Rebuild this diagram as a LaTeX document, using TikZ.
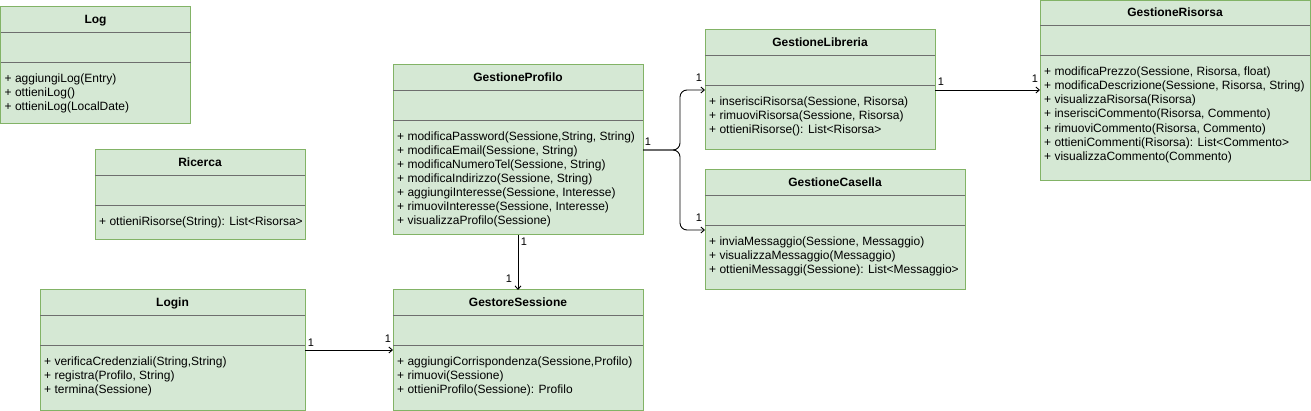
\documentclass[tikz,border=0pt]{standalone}
\usepackage{fontspec}
\setmainfont{Liberation Sans}
\usetikzlibrary{arrows.meta}
\definecolor{gfill}{HTML}{D5E8D4}
\definecolor{gdraw}{HTML}{82B366}
\definecolor{sepcol}{HTML}{6E6E6E}
\tikzset{
  clsbox/.style={draw=gdraw, fill=gfill, line width=1pt, rectangle, inner sep=0pt, outer sep=0pt},
  clstitle/.style={font=\bfseries\fontsize{12}{14}\selectfont, inner sep=0pt, anchor=base},
  clssep/.style={draw=sepcol, line width=0.8pt},
  clsmeth/.style={font=\fontsize{12}{14.1}\selectfont, align=left, inner sep=0pt},
  assoc/.style={draw=black, line width=0.9pt, -{Straight Barb[length=3.5pt,width=6pt]}},
  mult/.style={font=\fontsize{11}{13}\selectfont, inner sep=0pt}
}
\newcommand\umlclass[7]{%
  \node[clsbox, minimum width=#4pt, minimum height=#5pt, anchor=north west] (#1) at (#2,#3) {};
  \node[clstitle] (#1-title) at ([yshift=-16.5pt]#1.north) {#6};
  \draw[clssep] ([yshift=-25pt]#1.north west) -- ([yshift=-25pt]#1.north east);
  \draw[clssep] ([yshift=-55pt]#1.north west) -- ([yshift=-55pt]#1.north east);
  \node[clsmeth, anchor=north west] (#1-ops) at ([xshift=4pt,yshift=-66.3pt]#1.north west) {#7};
}
\begin{document}
\begin{tikzpicture}[x=1pt,y=-1pt]
\useasboundingbox (0,0) rectangle (1311,411);
\umlclass{log}{0.5}{7}{190}{117}{Log}{+ aggiungiLog(Entry)\\+ ottieniLog()\\+ ottieniLog(LocalDate)}
\umlclass{ric}{95}{150}{210}{90}{Ricerca}{+ ottieniRisorse(String): List<Risorsa>}
\umlclass{prof}{393}{65}{250}{170}{GestioneProfilo}{+ modificaPassword(Sessione,String, String)\\+ modificaEmail(Sessione, String)\\+ modificaNumeroTel(Sessione, String)\\+ modificaIndirizzo(Sessione, String)\\+ aggiungiInteresse(Sessione, Interesse)\\+ rimuoviInteresse(Sessione, Interesse)\\+ visualizzaProfilo(Sessione)}
\umlclass{lib}{705}{30}{230}{120}{GestioneLibreria}{+ inserisciRisorsa(Sessione, Risorsa)\\+ rimuoviRisorsa(Sessione, Risorsa)\\+ ottieniRisorse(): List<Risorsa>}
\umlclass{cas}{705}{170}{260}{120}{GestioneCasella}{+ inviaMessaggio(Sessione, Messaggio)\\+ visualizzaMessaggio(Messaggio)\\+ ottieniMessaggi(Sessione): List<Messaggio>}
\umlclass{ris}{1040}{0.5}{270}{180}{GestioneRisorsa}{+ modificaPrezzo(Sessione, Risorsa, float)\\+ modificaDescrizione(Sessione, Risorsa, String)\\+ visualizzaRisorsa(Risorsa)\\+ inserisciCommento(Risorsa, Commento)\\+ rimuoviCommento(Risorsa, Commento)\\+ ottieniCommenti(Risorsa): List<Commento>\\+ visualizzaCommento(Commento)}
\umlclass{login}{40}{290}{265}{120}{Login}{+ verificaCredenziali(String,String)\\+ registra(Profilo, String)\\+ termina(Sessione)}
\umlclass{sess}{393}{290}{250}{120}{GestoreSessione}{+ aggiungiCorrispondenza(Sessione,Profilo)\\+ rimuovi(Sessione)\\+ ottieniProfilo(Sessione): Profilo}

\draw[assoc, rounded corners=7pt] (prof.east) -| ([xshift=-25pt]lib.west) -- (lib.west);
\draw[assoc, rounded corners=7pt] (prof.east) -| ([xshift=-25pt]cas.west) -- (cas.west);
\draw[assoc] (lib.east) -- (ris.west |- lib.east);
\draw[assoc] (prof.south) -- (sess.north);
\draw[assoc] (login.east) -- (sess.west);

\node[mult] (m1) at (648,142) {1};
\node[mult] (m2) at (699,78) {1};
\node[mult] (m3) at (699,218) {1};
\node[mult] (m4) at (941,82) {1};
\node[mult] (m5) at (1035,79) {1};
\node[mult] (m6) at (524,242) {1};
\node[mult] (m7) at (509,279) {1};
\node[mult] (m8) at (311,343) {1};
\node[mult] (m9) at (388,339) {1};
\end{tikzpicture}
\end{document}
